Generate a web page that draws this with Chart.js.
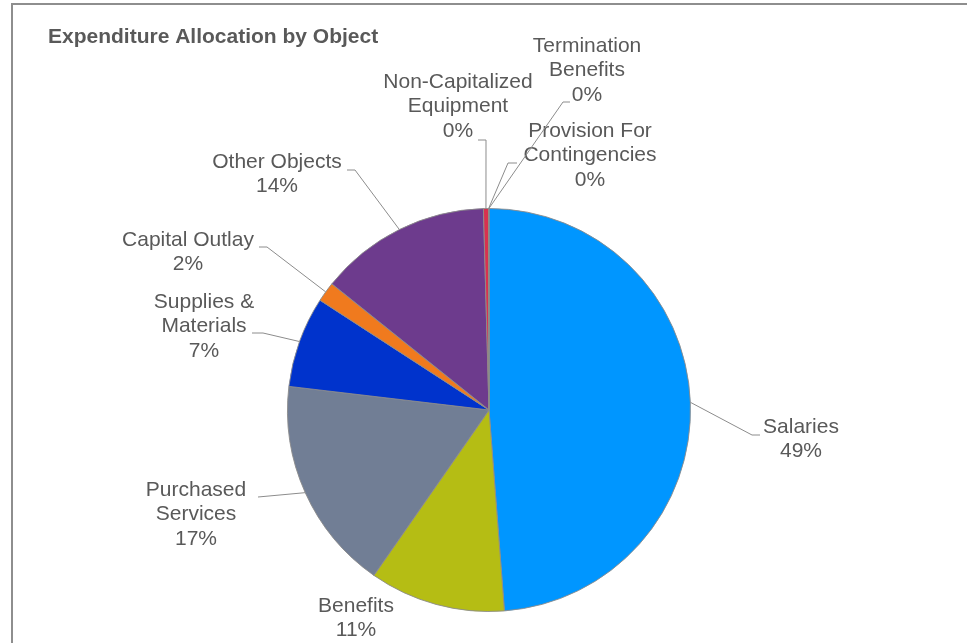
<!DOCTYPE html>
<html>
<head>
<meta charset="utf-8">
<title>Expenditure Allocation by Object</title>
<script src="https://cdn.jsdelivr.net/npm/chart.js@4.4.1/dist/chart.umd.min.js"></script>
<style>
  html, body { margin: 0; padding: 0; background: #fff; overflow: hidden; }
  .frame { position: absolute; left: 11px; top: 3px; width: 1000px; height: 700px; border: 2px solid #8e8e8e; }
  .wrap { position: absolute; left: 0; top: 0; width: 967px; height: 643px; }
</style>
</head>
<body>
<div class="frame"></div>
<div class="wrap"><canvas id="chart-object" width="967" height="643"></canvas></div>
<script>
// object codes, in the order the slices run clockwise from 12 o'clock
var categories = [
  "Salaries",
  "Benefits",
  "Purchased Services",
  "Supplies & Materials",
  "Capital Outlay",
  "Other Objects",
  "Non-Capitalized Equipment",
  "Provision For Contingencies",
  "Termination Benefits",
];
// how each name is broken over lines in its label
var labelLines = [
  ["Salaries"],
  ["Benefits"],
  ["Purchased", "Services"],
  ["Supplies &", "Materials"],
  ["Capital Outlay"],
  ["Other Objects"],
  ["Non-Capitalized", "Equipment"],
  ["Provision For", "Contingencies"],
  ["Termination", "Benefits"],
];
// share of total expenditure, percent
var shares = [48.8, 10.9, 17.2, 7.3, 1.6, 13.8, 0.4, 0.02, 0.02];

var sliceColors = [
  "#0096ff",
  "#b5bd14",
  "#717e95",
  "#0033cc",
  "#f07a1e",
  "#6d3b8d",
  "#d8314f",
  "#4f9a3a",
  "#e0b020",
];

// label placement, offsets from the pie centre:
// text centre x, first line y, leader elbow (x, y), leader end x (null = no leader)
var labelPlacement = [
  { tx: 312, ty: 17, ex: 263, ey: 25, endX: 271 },
  { tx: -133, ty: 196, ex: null },
  { tx: -293, ty: 80, ex: -231, ey: 87, endX: -231 },
  { tx: -285, ty: -108, ex: -226, ey: -77, endX: -237 },
  { tx: -301, ty: -170, ex: -222, ey: -163, endX: -230 },
  { tx: -212, ty: -248, ex: -134, ey: -240, endX: -142 },
  { tx: -31, ty: -328, ex: -3, ey: -270, endX: -11 },
  { tx: 101, ty: -279, ex: 19, ey: -247, endX: 28 },
  { tx: 98, ty: -364, ex: 74, ey: -308, endX: 81 },
];

var FONT = '"Liberation Sans", Arial, Helvetica, sans-serif';
var TEXT_COLOR = "#595959";

//Desenha titulo, linhas de chamada e rotulos
var pieLabels = {
  id: "pieLabels",
  afterDraw: function (chart) {
    var ctx = chart.ctx;
    var meta = chart.getDatasetMeta(0);
    var total = shares.reduce(function (a, b) { return a + b; }, 0);

    ctx.save();
    ctx.fillStyle = TEXT_COLOR;
    ctx.font = "bold 21px " + FONT;
    ctx.textAlign = "left";
    ctx.textBaseline = "alphabetic";
    ctx.fillText("Expenditure Allocation by Object", 48, 43);

    for (var i = 0; i < meta.data.length; i++) {
      var arc = meta.data[i];
      var p = arc.getProps(["x", "y", "startAngle", "endAngle", "outerRadius"], true);
      var mid = (p.startAngle + p.endAngle) / 2;
      var place = labelPlacement[i];

      if (place.ex !== null) {
        ctx.strokeStyle = "#8c8c8c";
        ctx.lineWidth = 1;
        ctx.beginPath();
        ctx.moveTo(p.x + Math.cos(mid) * p.outerRadius, p.y + Math.sin(mid) * p.outerRadius);
        ctx.lineTo(p.x + place.ex, p.y + place.ey);
        ctx.lineTo(p.x + place.endX, p.y + place.ey);
        ctx.stroke();
      }

      var lines = labelLines[i].concat([Math.round((shares[i] / total) * 100) + "%"]);
      ctx.fillStyle = TEXT_COLOR;
      ctx.font = "21px " + FONT;
      ctx.textAlign = "center";
      ctx.textBaseline = "middle";
      for (var j = 0; j < lines.length; j++) {
        ctx.fillText(lines[j], p.x + place.tx, p.y + place.ty + j * 24.5);
      }
    }
    ctx.restore();
  },
};

var ctx = document.getElementById("chart-object").getContext("2d");
var myChart = new Chart(ctx, {
  type: "pie",
  data: {
    labels: categories,
    datasets: [
      {
        data: shares,
        backgroundColor: sliceColors,
        borderColor: "rgba(140, 140, 140, 0.9)",
        borderWidth: 1,
        hoverOffset: 0,
      },
    ],
  },
  options: {
    responsive: false,
    devicePixelRatio: 1,
    animation: false,
    layout: {
      padding: { top: 208, bottom: 31, left: 287, right: 276 },
    },
    plugins: {
      legend: { display: false },
      tooltip: { enabled: false },
      title: { display: false },
    },
  },
  plugins: [pieLabels],
});
</script>
</body>
</html>
